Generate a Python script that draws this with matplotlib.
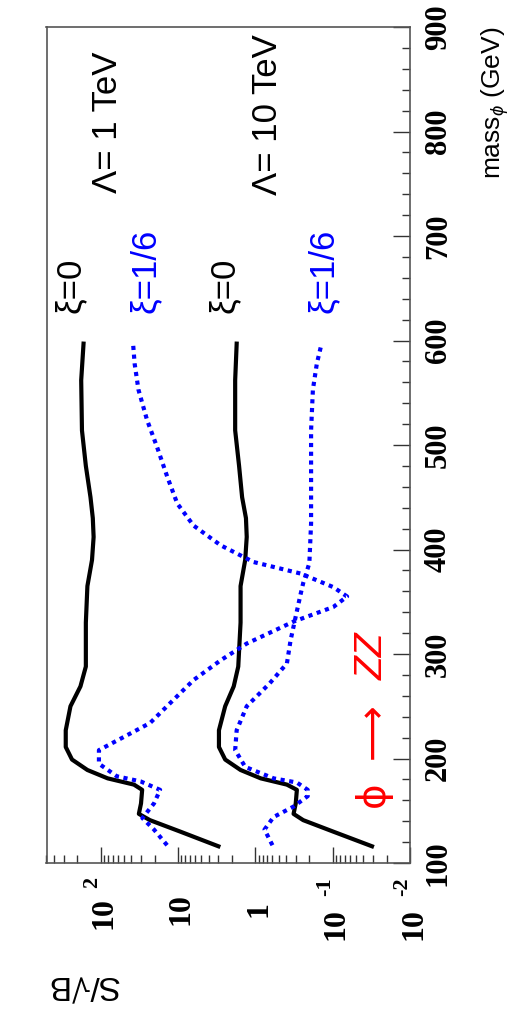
import matplotlib
matplotlib.use('Agg')
from matplotlib import pyplot as plt
from matplotlib import ticker, transforms

# S/sqrt(B) against the scalar mass; the page is turned on its side,
# so S/sqrt(B) runs along the bottom (reversed log) and mass up the right side
mass_lam1_xi0 = [116, 130, 141, 147, 157, 170, 175, 181, 189, 199, 211, 227, 250,
                 269, 288, 330, 365, 390, 412, 430, 450, 480, 514, 562, 597]
sb_lam1_xi0 = [3.0, 9.3, 23, 32, 30, 29, 37, 81, 148, 234, 282, 282, 245,
               182, 155, 155, 148, 129, 123, 126, 135, 155, 174, 178, 166]

mass_lam10_xi0 = [116, 130, 141, 147, 157, 170, 175, 181, 189, 199, 211, 227, 250,
                  269, 288, 330, 365, 390, 412, 430, 450, 480, 514, 562, 597]
sb_lam10_xi0 = [0.031, 0.098, 0.24, 0.32, 0.30, 0.29, 0.39, 0.85, 1.55, 2.45, 2.95, 2.95, 2.45,
                1.9, 1.66, 1.55, 1.55, 1.35, 1.29, 1.32, 1.48, 1.62, 1.82, 1.82, 1.74]

mass_lam1_xi16 = [117, 132, 143, 157, 170, 178, 183, 195, 208, 219, 234, 253, 275, 294, 310,
                  331, 345, 355, 364, 377, 388, 404, 423, 444, 470, 498, 524, 553, 578, 597]
sb_lam1_xi16 = [13.8, 20.4, 28.8, 20.4, 17, 30.2, 61.7, 105, 105, 55, 22.9, 12.6, 6.3, 2.8, 1.29,
                0.32, 0.098, 0.065, 0.098, 0.26, 1.05, 2.8, 6.3, 10.2, 13.8, 18.6, 25.1, 32.4, 36.3, 38]

mass_lam10_xi16 = [117, 132, 144, 154, 164, 170, 177, 181, 192, 208, 227, 250, 272,
                   291, 313, 336, 357, 368, 387, 425, 482, 514, 553, 578, 596]
sb_lam10_xi16 = [0.60, 0.76, 0.58, 0.32, 0.21, 0.21, 0.29, 0.58, 1.35, 1.82, 1.74, 1.29, 0.65,
                 0.39, 0.35, 0.30, 0.26, 0.24, 0.20, 0.19, 0.19, 0.19, 0.18, 0.16, 0.14]

mass_ticks = [100, 200, 300, 400, 500, 600, 700, 800, 900]
sb_ticks = [100, 10, 1, 0.1, 0.01]
sb_tick_base = ['10', '10', '1', '10', '10']
sb_tick_exp = ['2', '', '', '-1', '-2']

PX = 0.72  # points per pixel at dpi 100

fig = plt.figure(figsize=(5.12, 10.09), dpi=100)
ax = fig.add_axes([46.5 / 512, 1 - 863 / 1009, 363.5 / 512, 836 / 1009])

dotted = (0, (1.0, 1.1))
ax.plot(sb_lam1_xi0, mass_lam1_xi0, color='black', lw=3.0)
ax.plot(sb_lam10_xi0, mass_lam10_xi0, color='black', lw=3.0)
ax.plot(sb_lam1_xi16, mass_lam1_xi16, color='#0000ff', lw=3.0, ls=dotted, dash_capstyle='butt')
ax.plot(sb_lam10_xi16, mass_lam10_xi16, color='#0000ff', lw=3.0, ls=dotted, dash_capstyle='butt')

ax.set_xscale('log')
ax.set_xlim(500, 0.01)
ax.set_ylim(100, 900)

for sp in ax.spines.values():
    sp.set_color('#555555')
    sp.set_linewidth(1.2)

ax.xaxis.set_major_locator(ticker.LogLocator(base=10))
ax.xaxis.set_minor_locator(ticker.LogLocator(base=10, subs=range(2, 10)))
ax.xaxis.set_major_formatter(ticker.NullFormatter())
ax.xaxis.set_minor_formatter(ticker.NullFormatter())
ax.tick_params(axis='x', which='both', bottom=True, top=False, direction='in',
               labelbottom=False, color='#333333', width=1.0)
ax.tick_params(axis='x', which='major', length=11.5)
ax.tick_params(axis='x', which='minor', length=5.8)

ax.set_yticks(mass_ticks)
ax.yaxis.set_minor_locator(ticker.MultipleLocator(20))
ax.tick_params(axis='y', which='both', left=False, right=True, labelleft=False,
               labelright=True, direction='in', color='#333333', width=1.0)
ax.tick_params(axis='y', which='major', length=12.2, pad=10, labelrotation=90)
ax.tick_params(axis='y', which='minor', length=5.8)
for lbl in ax.get_yticklabels():
    lbl.set_fontfamily('Liberation Serif')
    lbl.set_fontweight('bold')
    lbl.set_fontsize(22)
    lbl.set_va('center')

# log axis labels below the bottom spine: ROOT style "10" plus raised exponent
serif_bold = dict(family='Liberation Serif', weight='bold', rotation=90, rotation_mode='anchor')
for v, base, ex in zip(sb_ticks, sb_tick_base, sb_tick_exp):
    if ex:
        ax.annotate(ex, xy=(v, 0), xycoords=('data', 'axes fraction'),
                    xytext=(-3 * PX, -14 * PX), textcoords='offset points',
                    ha='right', va='baseline', fontsize=16, **serif_bold)
        top = 14 + 11 * len(ex) + 9
        ax.annotate(base, xy=(v, 0), xycoords=('data', 'axes fraction'),
                    xytext=(11 * PX, -top * PX), textcoords='offset points',
                    ha='right', va='baseline', fontsize=23, **serif_bold)
    else:
        ax.annotate(base, xy=(v, 0), xycoords=('data', 'axes fraction'),
                    xytext=(11 * PX, -46 * PX), textcoords='offset points',
                    ha='center', va='baseline', fontsize=23, **serif_bold)

plt.rcParams['mathtext.fontset'] = 'custom'
plt.rcParams['mathtext.rm'] = 'Liberation Sans'
plt.rcParams['mathtext.it'] = 'Liberation Sans:italic'

ax.text(1.234, 1.0, r'mass$_{\phi}$ (GeV)', transform=ax.transAxes, rotation=90,
        rotation_mode='anchor', ha='right', va='center', fontsize=19,
        family='Liberation Sans')
ax.text(0.0, -0.1447, 'S/\u221aB', transform=ax.transAxes, rotation=180,
        rotation_mode='anchor', ha='right', va='center', fontsize=24,
        family=['Liberation Sans', 'DejaVu Sans'])

trans = transforms.blended_transform_factory(ax.transAxes, ax.transData)
def label(x, m, s, color='black', size=25, family=['Liberation Sans', 'DejaVu Sans'], style='normal', ha='left'):
    ax.text(x, m, s, transform=trans, rotation=90, rotation_mode='anchor',
            ha=ha, va='center', fontsize=size, color=color, family=family, style=style)

label(0.168, 741, '\u039b= 1 TeV')
label(0.608, 739, '\u039b= 10 TeV')
label(0.0647, 626, '\u03be=0')
label(0.272, 626, '\u03be=1/6', color='#0000ff')
label(0.488, 626, '\u03be=0')
label(0.762, 626, '\u03be=1/6', color='#0000ff')
label(0.898, 153.6, '\u03d5', color='#ff0000', size=28, family=['DejaVu Sans'])
label(0.898, 226, '\u27f6', color='#ff0000', size=28, family=['DejaVu Sans'], ha='center')
label(0.898, 275, 'ZZ', color='#ff0000', size=28, style='italic')

fig.savefig('out.png', dpi=100, facecolor='white')
